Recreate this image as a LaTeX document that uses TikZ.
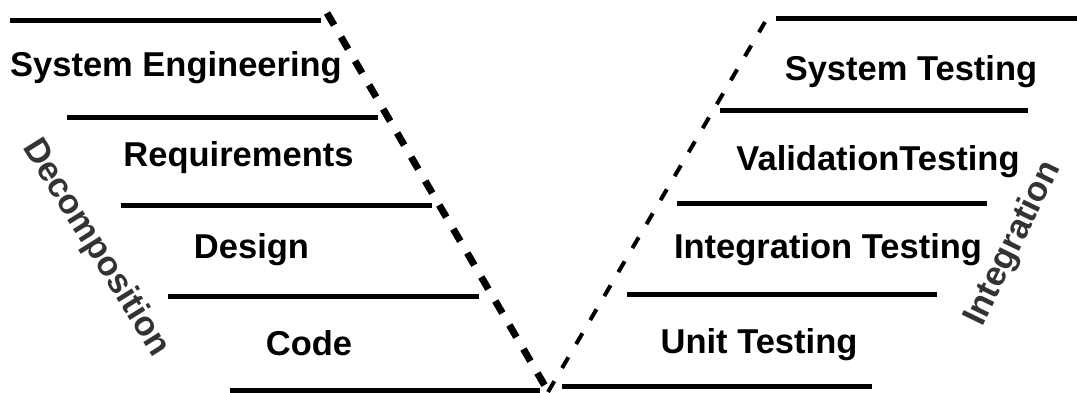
\documentclass[tikz,border=0pt]{standalone}
\usepackage{fontspec}
\setmainfont{Liberation Sans}
\begin{document}
\begin{tikzpicture}[x=1pt,y=-1pt,
  phase/.style={draw=black,line width=5pt},
  stage/.style={font=\fontsize{34.5}{40}\selectfont\bfseries,text=black,inner sep=0pt,anchor=base},
  flow/.style={font=\fontsize{34.5}{40}\selectfont\bfseries,text=flowgray,inner sep=0pt,anchor=base west},
  downleg/.style={draw=black,line width=7pt,dash pattern=on 14pt off 13.8pt},
  upleg/.style={draw=black,line width=4pt,dash pattern=on 12.5pt off 15.3pt}]
\definecolor{flowgray}{HTML}{333333}
\useasboundingbox (0,0) rectangle (1077,392);

% left-hand (decomposition) phase boundaries
\coordinate (l1a) at (10,20.7);   \coordinate (l1b) at (321,20.7);
\coordinate (l2a) at (67,117.3);  \coordinate (l2b) at (378,117.3);
\coordinate (l3a) at (120.5,205); \coordinate (l3b) at (431.7,205);
\coordinate (l4a) at (168,296.7); \coordinate (l4b) at (479,296.7);
\coordinate (l5a) at (229.6,390); \coordinate (l5b) at (539.6,390);
% right-hand (integration) phase boundaries
\coordinate (r1a) at (776,18.3);  \coordinate (r1b) at (1077,18.3);
\coordinate (r2a) at (720,110);   \coordinate (r2b) at (1028,110);
\coordinate (r3a) at (677,203.3); \coordinate (r3b) at (987,203.3);
\coordinate (r4a) at (627,294);   \coordinate (r4b) at (937,294);
\coordinate (r5a) at (562,386.7); \coordinate (r5b) at (872,386.7);

\foreach \i in {1,...,5} {
  \draw[phase] (l\i a) -- (l\i b);
  \draw[phase] (r\i a) -- (r\i b);
}

% the two legs of the V
\coordinate (vtopl) at (327,13);
\coordinate (vbotl) at (545,386);
\coordinate (vbotr) at (548,392);
\coordinate (vtopr) at (765,22);
\draw[downleg] (vtopl) -- (vbotl);
\draw[upleg] (vbotr) -- (vtopr);

% stage labels
\node[stage] (syseng) at (176,76.7) {System Engineering};
\node[stage] (req)    at (238.5,166) {Requirements};
\node[stage] (des)    at (251.5,258) {Design};
\node[stage] (code)   at (309,355) {Code};
\node[stage] (systest) at (911,80) {System Testing};
\node[stage] (valtest) at (878,170) {ValidationTesting};
\node[stage] (inttest) at (828,258) {Integration Testing};
\node[stage] (unittest) at (759,353) {Unit Testing};

% direction labels
\node[flow,rotate=-58] (decomp) at (22,147) {Decomposition};
\node[flow,rotate=64] (integ) at (982,328) {Integration};
\end{tikzpicture}
\end{document}
